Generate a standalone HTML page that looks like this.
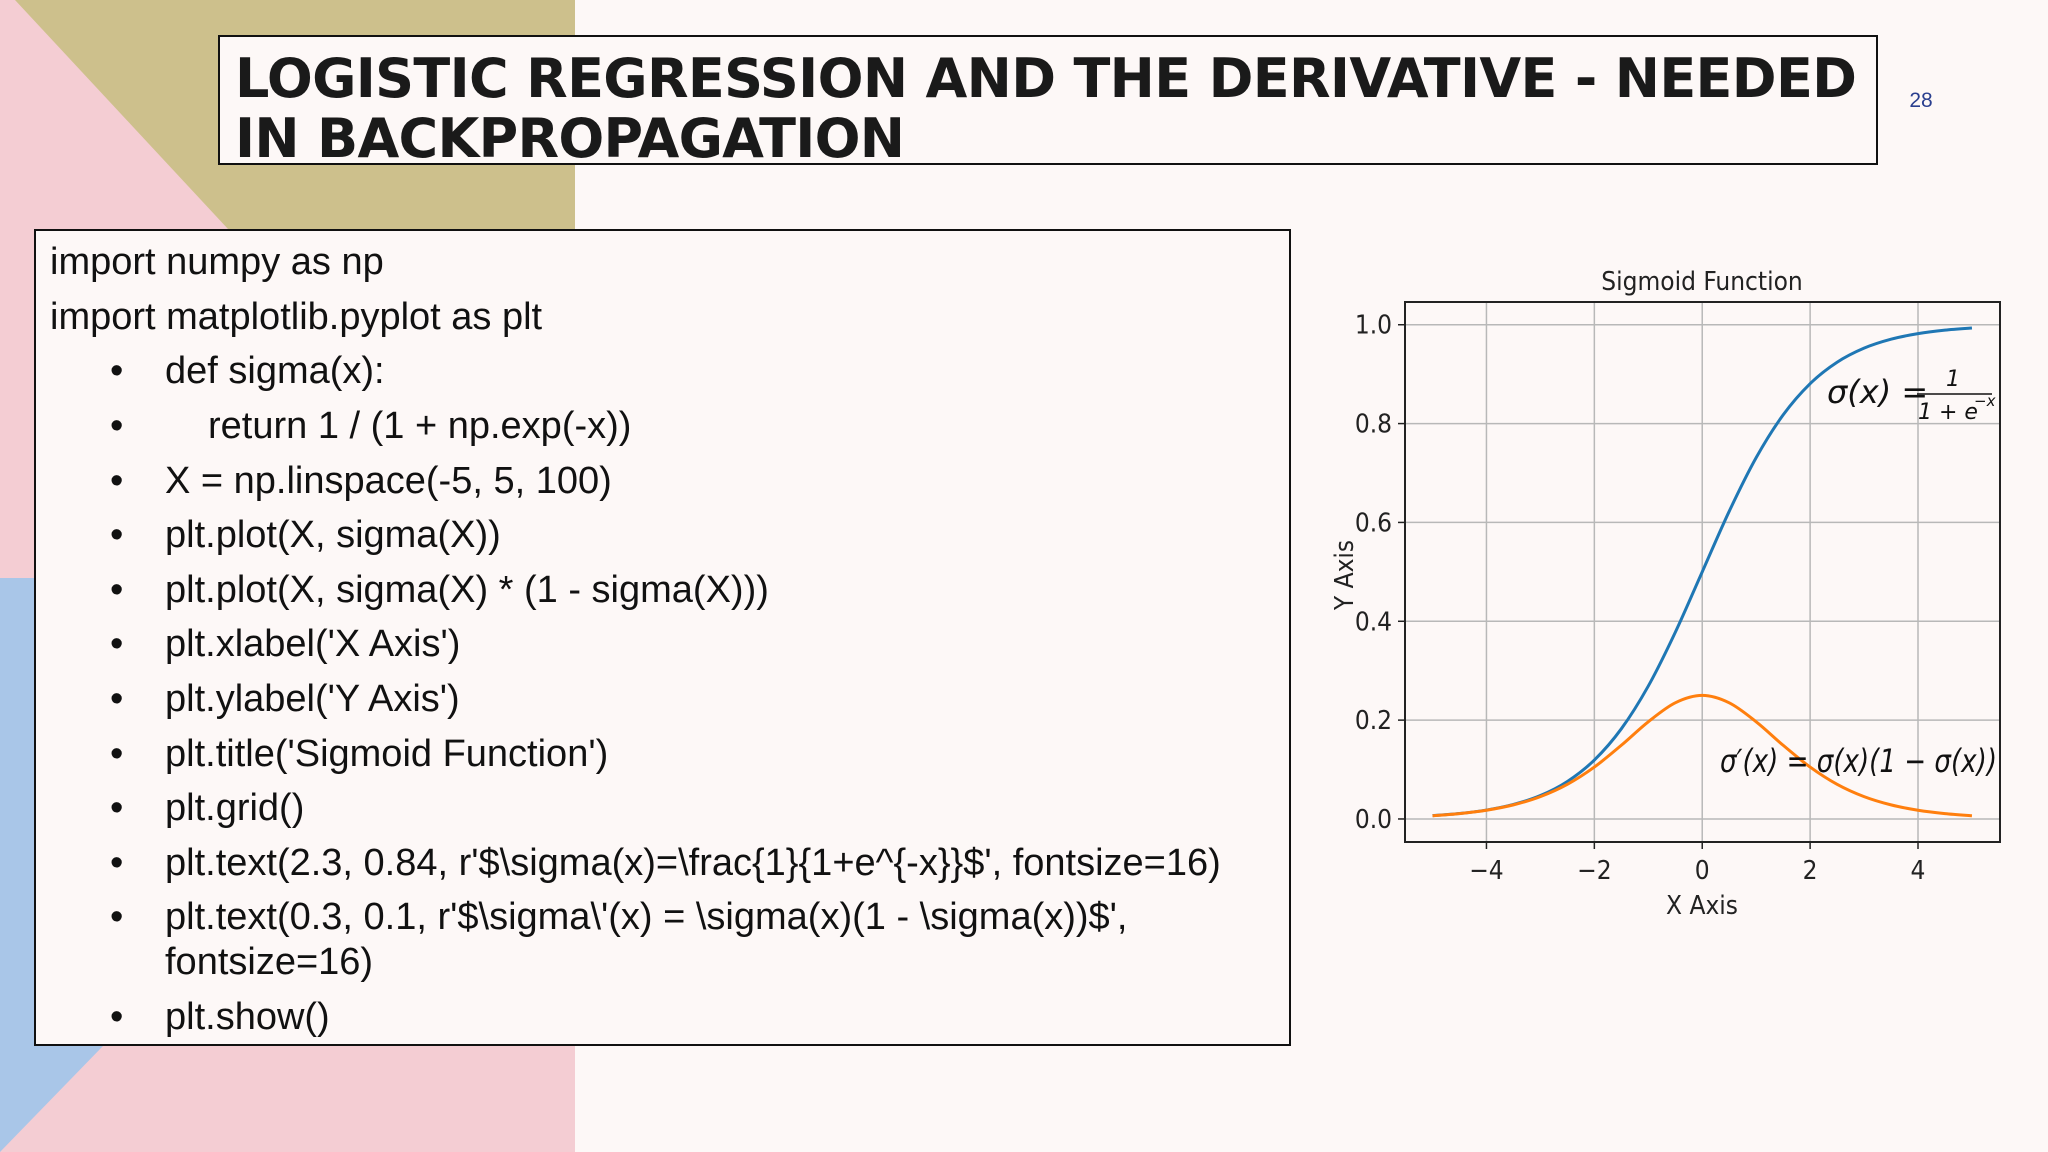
<!DOCTYPE html>
<html><head><meta charset="utf-8"><style>
html,body{margin:0;padding:0;background:#fdf8f7;}
svg{display:block;}
.code{font-family:"Liberation Sans",sans-serif;font-size:38px;fill:#111;}
.tick{font-family:"Liberation Sans Narrow","DejaVu Sans Condensed","Liberation Sans",sans-serif;font-size:26px;fill:#222;}
.math{font-family:"DejaVu Sans","Liberation Sans",sans-serif;font-style:italic;fill:#111;}
</style></head><body>
<svg id="page" width="2048" height="1152" viewBox="0 0 2048 1152">
  <rect x="0" y="0" width="2048" height="1152" fill="#fdf8f7"/>
  <rect x="0" y="0" width="575" height="1152" fill="#f4cdd3"/>
  <polygon points="15,0 575,0 575,229 228,229" fill="#cdc08c"/>
  <polygon points="0,578 340,578 340,802 0,1152" fill="#a9c6e8"/>

  <g>
    <rect x="219" y="36" width="1658" height="128" fill="#fdf8f7" stroke="#111" stroke-width="2"/>
    <text x="235" y="97" font-family="DejaVu Sans,sans-serif" font-weight="bold" font-size="54" fill="#1a1a1a" textLength="1622" lengthAdjust="spacing">LOGISTIC REGRESSION AND THE DERIVATIVE - NEEDED</text>
    <text x="235" y="157" font-family="DejaVu Sans,sans-serif" font-weight="bold" font-size="54" fill="#1a1a1a" textLength="670" lengthAdjust="spacing">IN BACKPROPAGATION</text>
  </g>
  <text x="1921" y="107" font-family="Liberation Sans,sans-serif" font-size="21" fill="#2a3f8f" text-anchor="middle">28</text>

  <g>
    <rect x="35" y="230" width="1255" height="815" fill="#fdf8f7" stroke="#111" stroke-width="2"/>
    <g class="code">
      <text x="50" y="274">import numpy as np</text>
      <text x="50" y="329">import matplotlib.pyplot as plt</text>
      <text x="110" y="383">•</text><text x="165" y="383">def sigma(x):</text>
      <text x="110" y="438">•</text><text x="208" y="438">return 1 / (1 + np.exp(-x))</text>
      <text x="110" y="493">•</text><text x="165" y="493">X = np.linspace(-5, 5, 100)</text>
      <text x="110" y="547">•</text><text x="165" y="547">plt.plot(X, sigma(X))</text>
      <text x="110" y="602">•</text><text x="165" y="602">plt.plot(X, sigma(X) * (1 - sigma(X)))</text>
      <text x="110" y="656">•</text><text x="165" y="656">plt.xlabel('X Axis')</text>
      <text x="110" y="711">•</text><text x="165" y="711">plt.ylabel('Y Axis')</text>
      <text x="110" y="766">•</text><text x="165" y="766">plt.title('Sigmoid Function')</text>
      <text x="110" y="820">•</text><text x="165" y="820">plt.grid()</text>
      <text x="110" y="875">•</text><text x="165" y="875">plt.text(2.3, 0.84, r'$\sigma(x)=\frac{1}{1+e^{-x}}$', fontsize=16)</text>
      <text x="110" y="929">•</text><text x="165" y="929">plt.text(0.3, 0.1, r'$\sigma\'(x) = \sigma(x)(1 - \sigma(x))$',</text>
      <text x="165" y="974">fontsize=16)</text>
      <text x="110" y="1029">•</text><text x="165" y="1029">plt.show()</text>
    </g>
  </g>

  <g id="chart"></g>
</svg>
<script>
const xValues = [-5,-4.5,-4,-3.5,-3,-2.5,-2,-1.5,-1,-0.5,0,0.5,1,1.5,2,2.5,3,3.5,4,4.5,5];
const sigmaValues = [0.0067,0.0110,0.0180,0.0293,0.0474,0.0759,0.1192,0.1824,0.2689,0.3775,0.5,0.6225,0.7311,0.8176,0.8808,0.9241,0.9526,0.9707,0.9820,0.9890,0.9933];
const derivValues = [0.0066,0.0109,0.0177,0.0285,0.0452,0.0701,0.1050,0.1491,0.1966,0.2350,0.25,0.2350,0.1966,0.1491,0.1050,0.0701,0.0452,0.0285,0.0177,0.0109,0.0066];
const xTicks = [-4,-2,0,2,4];
const xTickLabels = ['\u22124','\u22122','0','2','4'];
const yTicks = [0,0.2,0.4,0.6,0.8,1.0];
const yTickLabels = ['0.0','0.2','0.4','0.6','0.8','1.0'];

const NS='http://www.w3.org/2000/svg';
const chart=document.getElementById('chart');
const L=1405,R=2000,T=302,B=842;
const xMin=-5.51,xMax=5.52,yMin=-0.0466,yMax=1.046;
function sx(v){return L+(v-xMin)/(xMax-xMin)*(R-L);}
function sy(v){return B-(v-yMin)/(yMax-yMin)*(B-T);}
function mk(tag,attrs){const e=document.createElementNS(NS,tag);for(const k in attrs)e.setAttribute(k,attrs[k]);chart.appendChild(e);return e;}

let bg=mk('rect',{x:L,y:T,width:R-L,height:B-T,fill:'#fdf8f7'});



xTicks.forEach((t,i)=>{
  const g=mk('line',{x1:sx(t),x2:sx(t),y1:T,y2:B,stroke:'#b8b8b8','stroke-width':1.5});
  
  
  const tk=mk('line',{x1:sx(t),x2:sx(t),y1:B,y2:B+7,stroke:'#222','stroke-width':1.5});
  
  
  const lb=mk('text',{x:sx(t),y:B+37,'text-anchor':'middle',class:'tick'});
  lb.textContent=xTickLabels[i];
  
  
});
yTicks.forEach((t,i)=>{
  const g=mk('line',{x1:L,x2:R,y1:sy(t),y2:sy(t),stroke:'#b8b8b8','stroke-width':1.5});
  
  
  const tk=mk('line',{x1:L-7,x2:L,y1:sy(t),y2:sy(t),stroke:'#222','stroke-width':1.5});
  
  
  const lb=mk('text',{x:L-13,y:sy(t)+9,'text-anchor':'end',class:'tick'});
  lb.textContent=yTickLabels[i];
  
  
});

function smoothPath(xs,ys){
  const p=xs.map((x,i)=>[sx(x),sy(ys[i])]);
  let d='M'+p[0][0]+','+p[0][1];
  for(let i=0;i<p.length-1;i++){
    const p0=p[i-1]||p[i],p1=p[i],p2=p[i+1],p3=p[i+2]||p[i+1];
    const c1=[p1[0]+(p2[0]-p0[0])/6,p1[1]+(p2[1]-p0[1])/6];
    const c2=[p2[0]-(p3[0]-p1[0])/6,p2[1]-(p3[1]-p1[1])/6];
    d+=' C'+c1[0]+','+c1[1]+' '+c2[0]+','+c2[1]+' '+p2[0]+','+p2[1];
  }
  return d;
}
const s1=mk('path',{d:smoothPath(xValues,sigmaValues),fill:'none',stroke:'#1f77b4','stroke-width':3});


const s2=mk('path',{d:smoothPath(xValues,derivValues),fill:'none',stroke:'#ff7f0e','stroke-width':3});



const fr=mk('rect',{x:L,y:T,width:R-L,height:B-T,fill:'none',stroke:'#222','stroke-width':2});



const title=mk('text',{x:1702,y:290,'text-anchor':'middle',class:'tick','font-size':31});
title.textContent='Sigmoid Function';


const xl=mk('text',{x:1702,y:914,'text-anchor':'middle',class:'tick'});
xl.textContent='X Axis';


const yl=mk('text',{x:0,y:0,'text-anchor':'middle',class:'tick','font-size':22,transform:'translate(1353,575) rotate(-90)'});
yl.textContent='Y Axis';



const f1=mk('text',{x:1827,y:403,class:'math','font-size':32});
f1.textContent='σ(x) =';


const f1n=mk('text',{x:1953,y:386,class:'math','font-size':22,'font-style':'normal','text-anchor':'middle'});
f1n.textContent='1';


const f1l=mk('line',{x1:1917,x2:1992,y1:394,y2:394,stroke:'#111','stroke-width':1.5});


const f1d=mk('text',{x:1918,y:419,class:'math','font-size':22,'font-style':'normal'});
f1d.textContent='1 + e';


const f1e=mk('text',{x:1974,y:406,class:'math','font-size':15});
f1e.textContent='−x';


const f2=mk('text',{x:1720,y:772,class:'math','font-size':32,textLength:277,lengthAdjust:'spacingAndGlyphs'});
f2.textContent='σ′(x) = σ(x)(1 − σ(x))';


</script>
</body></html>
